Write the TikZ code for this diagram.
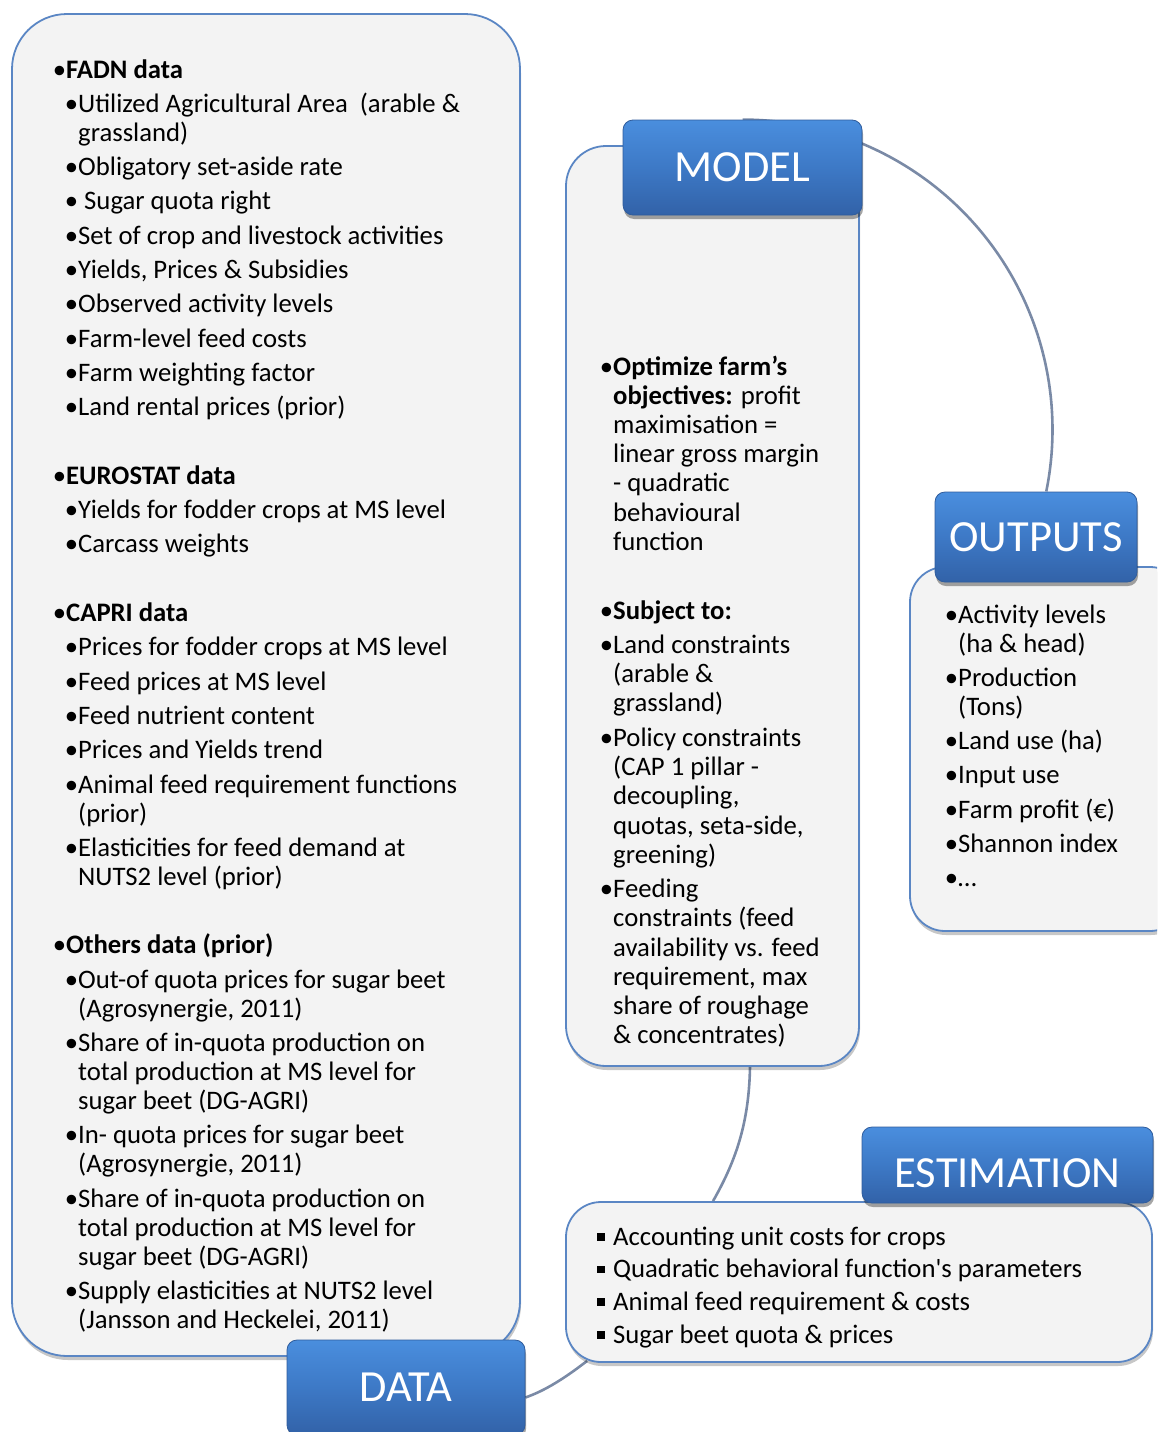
\documentclass[tikz,border=0pt]{standalone}
\usepackage{fontspec}
\setmainfont{Carlito}[Ligatures=TeXOff]
\usetikzlibrary{shadows,calc,backgrounds}
\definecolor{panelfill}{HTML}{F3F3F3}
\definecolor{panelline}{HTML}{5A86C4}
\definecolor{lbltop}{HTML}{4A8EDE}
\definecolor{lblmid}{HTML}{3D79C6}
\definecolor{lblbot}{HTML}{3262A8}
\definecolor{lblline}{HTML}{2F5C9C}
\definecolor{connc}{HTML}{7A8AA6}
\newcommand\xHd[1]{\hbox{\llap{•}\textbf{#1}}}
\newcommand\xIt[1]{\hbox{\hskip12pt\llap{•}#1}}
\newcommand\xCt[1]{\hbox{\hskip12pt#1}}
\newcommand\xLn[1]{\hbox{#1}}
\newcommand\xBl[1]{\hbox{\llap{•}#1}}
\newcommand\xIg{\vskip5.3pt}
\newcommand\xGg{\vskip39.6pt}
\newcommand\xSq[1]{\hbox{\llap{\rule[4.5pt]{7.5pt}{7.5pt}\hskip8.5pt}#1}}
\tikzset{
  panel/.style={draw=panelline, line width=1.8pt, fill=panelfill, inner sep=0pt,
    drop shadow={shadow xshift=1pt, shadow yshift=-4pt, opacity=0.22, fill=black}},
  lbl/.style={draw=lblline, line width=0.8pt, rounded corners=10pt, inner sep=0pt,
    top color=lbltop, bottom color=lblbot, middle color=lblmid, text=white,
    font=\fontsize{44.5}{53}\selectfont,
    drop shadow={shadow xshift=1pt, shadow yshift=-4pt, opacity=0.35, fill=black}},
  connector/.style={draw=connc, line width=2.6pt},
  body/.style={inner sep=0pt, anchor=base west, font=\fontsize{26.7}{29}\selectfont},
}
\begin{document}
\begin{tikzpicture}[x=1pt,y=-1pt]
\useasboundingbox (0,0) rectangle (1157,1432);
\clip (0,0) rectangle (1157,1432);

% panels
\node[panel, rounded corners=55pt, minimum width=508pt, minimum height=1342pt] (datap) at (266,685) {};
\node[panel, rounded corners=40pt, minimum width=293pt, minimum height=920pt] (modelp) at (712.5,606) {};
\node[panel, rounded corners=35pt, minimum width=275pt, minimum height=364pt] (outp) at (1047.5,749) {};
\node[panel, rounded corners=35pt, minimum width=586pt, minimum height=160pt] (estp) at (859,1282) {};

% labels
\node[lbl, minimum width=239pt, minimum height=95pt] (modell) at (742.5,167.5) {MODEL};
\node[lbl, minimum width=202pt, minimum height=90pt] (outl) at (1036,537) {OUTPUTS};
\node[lbl, minimum width=291pt, minimum height=76pt, text height=45pt] (estl) at (1007.5,1165) {ESTIMATION};
\node[lbl, minimum width=238pt, minimum height=95pt] (datal) at (406,1387.5) {DATA};

% connectors
\begin{pgfonlayer}{background}
\draw[connector] (modell.north) arc[start angle=-90, end angle=11.5, radius=310];
\draw[connector] ($(modelp.south)+(37.5,0)$) .. controls ($(modelp.south)+(36.5,54)$) and ($(estp.north)+(-122,-42)$) .. ($(estp.north)+(-146,0)$);
\draw[connector] ($(estp.south west)+(22,-2)$) .. controls ($(estp.south west)+(0,15)$) and ($(datal.east)+(20,3)$) .. ($(datal.east)+(0,10)$);
\end{pgfonlayer}

% texts
\node[body] (datat) at (66,78) {\vtop{%
\xHd{FADN data}\xIg
\xIt{Utilized Agricultural Area\ \ (arable \&}
\xCt{grassland)}\xIg
\xIt{Obligatory set-aside rate}\xIg
\xIt{\ Sugar quota right}\xIg
\xIt{Set of crop and livestock activities}\xIg
\xIt{Yields, Prices \& Subsidies}\xIg
\xIt{Observed activity levels}\xIg
\xIt{Farm-level feed costs}\xIg
\xIt{Farm weighting factor}\xIg
\xIt{Land rental prices (prior)}\xGg
\xHd{EUROSTAT data}\xIg
\xIt{Yields for fodder crops at MS level}\xIg
\xIt{Carcass weights}\xGg
\xHd{CAPRI data}\xIg
\xIt{Prices for fodder crops at MS level}\xIg
\xIt{Feed prices at MS level}\xIg
\xIt{Feed nutrient content}\xIg
\xIt{Prices and Yields trend}\xIg
\xIt{Animal feed requirement functions}
\xCt{(prior)}\xIg
\xIt{Elasticities for feed demand at}
\xCt{NUTS2 level (prior)}\xGg
\xHd{Others data (prior)}\xIg
\xIt{Out-of quota prices for sugar beet}
\xCt{(Agrosynergie, 2011)}\xIg
\xIt{Share of in-quota production on}
\xCt{total production at MS level for}
\xCt{sugar beet (DG-AGRI)}\xIg
\xIt{In- quota prices for sugar beet}
\xCt{(Agrosynergie, 2011)}\xIg
\xIt{Share of in-quota production on}
\xCt{total production at MS level for}
\xCt{sugar beet (DG-AGRI)}\xIg
\xIt{Supply elasticities at NUTS2 level}
\xCt{(Jansson and Heckelei, 2011)}}};

\node[body, font=\fontsize{26.7}{29.2}\selectfont] (modelt) at (613,375) {\vtop{%
\xBl{\textbf{Optimize farm’s}}
\xLn{\textbf{objectives:} profit}
\xLn{maximisation =}
\xLn{linear gross margin}
\xLn{- quadratic}
\xLn{behavioural}
\xLn{function}\xGg
\xBl{\textbf{Subject to:}}\xIg
\xBl{Land constraints}
\xLn{(arable \&}
\xLn{grassland)}\xIg
\xBl{Policy constraints}
\xLn{(CAP 1 pillar -}
\xLn{decoupling,}
\xLn{quotas, seta-side,}
\xLn{greening)}\xIg
\xBl{Feeding}
\xLn{constraints (feed}
\xLn{availability vs. feed}
\xLn{requirement, max}
\xLn{share of roughage}
\xLn{\& concentrates)}}};

\node[body] (outt) at (958,623) {\vtop{%
\xBl{Activity levels}
\xLn{(ha \& head)}\xIg
\xBl{Production}
\xLn{(Tons)}\xIg
\xBl{Land use (ha)}\xIg
\xBl{Input use}\xIg
\xBl{Farm profit (€)}\xIg
\xBl{Shannon index}\xIg
\xBl{…}}};

\node[body, font=\fontsize{26.7}{32.7}\selectfont] (estt) at (613,1245) {\vtop{%
\xSq{Accounting unit costs for crops}
\xSq{Quadratic behavioral function's parameters}
\xSq{Animal feed requirement \& costs}
\xSq{Sugar beet quota \& prices}}};
\end{tikzpicture}
\end{document}
